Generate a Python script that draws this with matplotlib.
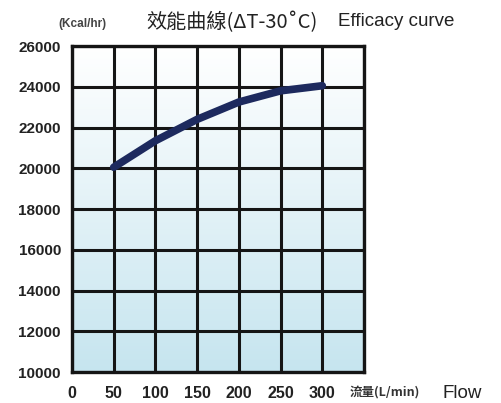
#!/usr/bin/env python3
"""Efficacy curve: heat output vs flow."""

import numpy as np
import matplotlib
matplotlib.use('Agg')
import matplotlib.pyplot as plt
from matplotlib.colors import LinearSegmentedColormap

# data
flow = [50, 100, 150, 200, 250, 300]
capacity = [20050, 21350, 22400, 23250, 23800, 24050]
x_ticks = [0, 50, 100, 150, 200, 250, 300]
y_ticks = [10000, 12000, 14000, 16000, 18000, 20000, 22000, 24000, 26000]

W, H = 501, 403
fig = plt.figure(figsize=(W / 100, H / 100), dpi=100)
ax = fig.add_axes([72 / W, 1 - 372 / H, 292 / W, 326 / H])

# background gradient: white at top to pale blue at bottom
cmap = LinearSegmentedColormap.from_list('bg', ['#ffffff', '#c6e5ef'])
grad = np.linspace(0, 1, 256).reshape(-1, 1)
ax.imshow(grad, cmap=cmap, aspect='auto', extent=[0, 350, 10000, 26000],
          zorder=0, origin='upper')

ax.set_xlim(0, 350)
ax.set_ylim(10000, 26000)
for xv in range(0, 351, 50):
    ax.axvline(xv, color='#151515', lw=2.2, zorder=1)
for yv in y_ticks:
    ax.axhline(yv, color='#151515', lw=2.2, zorder=1)
for sp in ax.spines.values():
    sp.set_linewidth(2.4)
    sp.set_color('#151515')

ax.plot(flow, capacity, color='#1d2a5e', lw=5.5, solid_capstyle='round',
        solid_joinstyle='round', zorder=3)

ax.set_xticks(x_ticks)
ax.set_yticks(y_ticks)
ax.set_xticklabels([str(v) for v in x_ticks], fontsize=11.5, fontweight='bold',
                   family='Liberation Sans', color='#222222')
ax.set_yticklabels([str(v) for v in y_ticks], fontsize=11, fontweight='bold',
                   family='Liberation Sans', color='#222222')
ax.tick_params(length=0, pad=8)
ax.tick_params(axis='x', pad=10)

cjk = ['Noto Sans CJK TC', 'DejaVu Sans']
fig.text(58 / W, 1 - 24 / H, '(Kcal/hr)', fontsize=8.5, fontweight='bold',
         family='Liberation Sans', color='#444444', va='center')
fig.text(146 / W, 1 - 22 / H, '效能曲線(ΔT-30˚C)', fontsize=14.5, family=cjk,
         color='#222222', va='center')
fig.text(338 / W, 1 - 22 / H, 'Efficacy curve', fontsize=13.5,
         family='Liberation Sans', color='#222222', va='center')
fig.text(350 / W, 1 - 393 / H, '流量(L/min)', fontsize=9, fontweight='bold',
         family=cjk, color='#333333', va='center')
fig.text(443 / W, 1 - 393 / H, 'Flow', fontsize=13.5,
         family='Liberation Sans', color='#222222', va='center')

fig.savefig('out.png', dpi=100)
plt.close()
